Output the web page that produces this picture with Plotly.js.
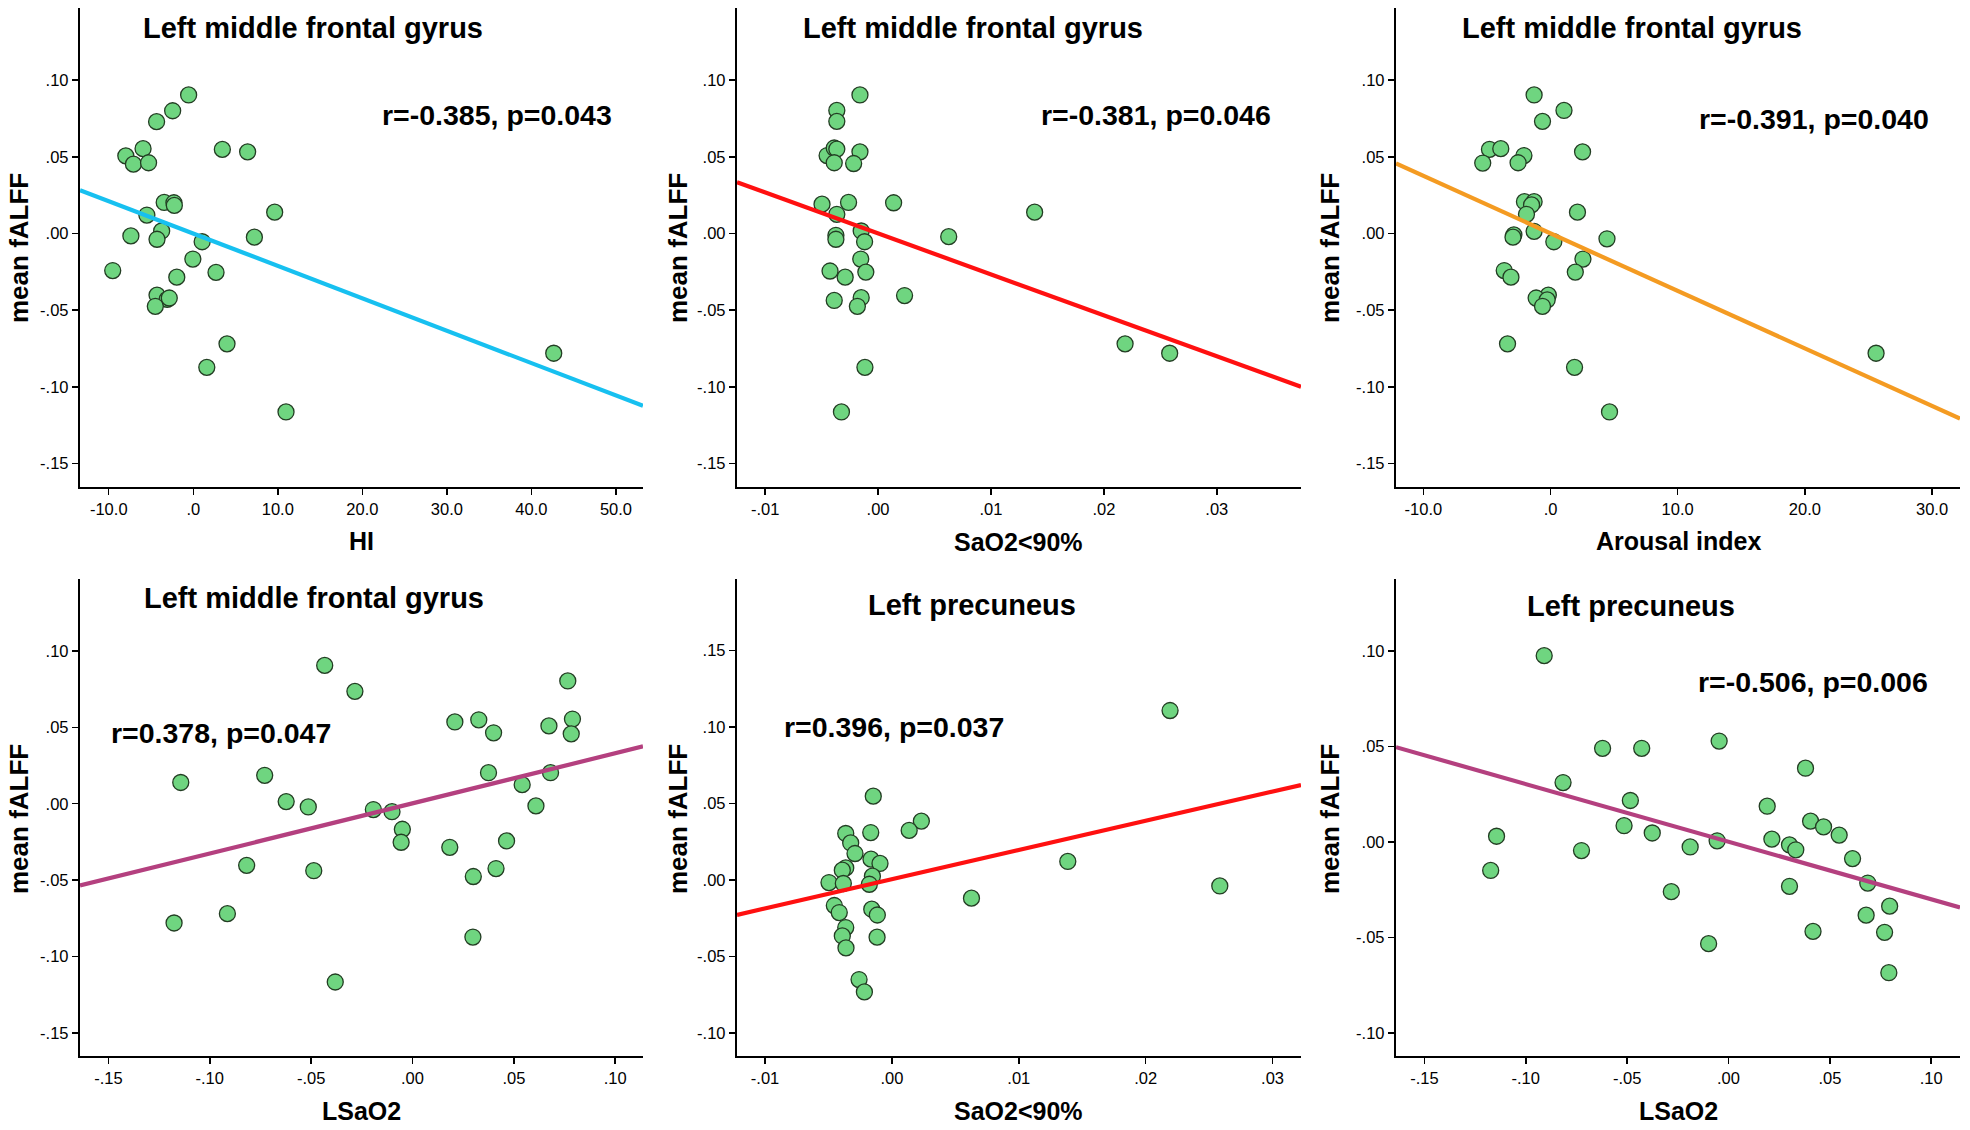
<!DOCTYPE html>
<html>
<head>
<meta charset="utf-8">
<script src="https://cdn.plot.ly/plotly-3.0.1.min.js"></script>
<style>
html,body{margin:0;padding:0;background:#fff;}
#chart{width:1970px;height:1130px;}
</style>
</head>
<body>
<div id="chart"></div>
<script>
// ---------- DATA ----------
// Panel 1: Left middle frontal gyrus vs HI
var hiX = [-0.55,-2.44,-4.34,-5.94,-7.98,-7.08,-5.29,3.44,6.43,-3.44,-2.29,-2.24,-5.49,9.63,-7.38,-3.74,-4.29,1.05,7.23,-0.05,-9.53,-1.95,2.69,-4.29,-3.09,-2.84,-4.49,3.99,1.60,10.97,42.64];
var hiY = [0.0903,0.0800,0.0729,0.0553,0.0506,0.0452,0.0461,0.0548,0.0532,0.0202,0.0200,0.0183,0.0120,0.0139,-0.0016,0.0016,-0.0038,-0.0054,-0.0024,-0.0167,-0.0242,-0.0285,-0.0254,-0.0402,-0.0430,-0.0421,-0.0475,-0.0720,-0.0873,-0.1164,-0.0781];
var hiFitX = [-13.4, 53.2];
var hiFitY = [0.0282, -0.1124];

// Panel 2: Left middle frontal gyrus vs SaO2<90%
var sao2X = [-0.0016,-0.00365,-0.00365,-0.00451,-0.00388,-0.00365,-0.00388,-0.0016,-0.00216,-0.00496,-0.00261,-0.00365,0.00138,0.01387,-0.00149,-0.00373,-0.00373,-0.00119,0.00626,-0.00153,-0.00425,-0.00291,-0.00108,-0.00388,-0.00149,-0.00183,0.00235,0.02188,0.02583,-0.00116,-0.00324];
var sao2Y = [0.0903,0.0802,0.0731,0.0508,0.0557,0.0550,0.0461,0.0532,0.0456,0.0191,0.0202,0.0125,0.0200,0.0139,0.0016,-0.0012,-0.0038,-0.0054,-0.0021,-0.0167,-0.0245,-0.0285,-0.0252,-0.0437,-0.0419,-0.0475,-0.0405,-0.0720,-0.0781,-0.0873,-0.1164];
var sao2FitX = [-0.01249, 0.03746];
var sao2FitY = [0.0334, -0.1000];

// Panel 3: Left middle frontal gyrus vs Arousal index
var arousalX = [-1.29,1.06,-0.63,-4.80,-3.91,2.52,-5.33,-2.09,-2.55,-2.05,-1.29,-1.49,2.12,-1.89,-2.88,-2.95,-1.29,0.26,4.44,2.55,-3.64,-3.11,1.95,-0.17,-1.13,-0.26,-0.63,-3.38,1.89,4.64,25.60];
var arousalY = [0.0903,0.0802,0.0731,0.0548,0.0553,0.0532,0.0459,0.0508,0.0461,0.0207,0.0207,0.0186,0.0139,0.0125,-0.0009,-0.0024,0.0014,-0.0054,-0.0035,-0.0167,-0.0242,-0.0285,-0.0252,-0.0402,-0.0421,-0.0433,-0.0475,-0.0720,-0.0873,-0.1164,-0.0781];
var arousalFitX = [-12.15, 32.2];
var arousalFitY = [0.0456, -0.1207];

// Panel 4: Left middle frontal gyrus vs LSaO2
var lsao2X = [-0.0433,-0.0284,0.0766,0.0209,0.0327,0.0400,0.0673,0.0789,0.0783,-0.1143,-0.0729,0.0375,0.0681,0.0541,-0.0623,-0.0514,-0.0193,-0.0101,0.0609,-0.0050,-0.0056,0.0184,0.0464,-0.0818,-0.0487,0.0412,0.0300,-0.0913,-0.1176,0.0298,-0.0381];
var lsao2Y = [0.0905,0.0735,0.0803,0.0535,0.0549,0.0464,0.0509,0.0554,0.0457,0.0139,0.0186,0.0203,0.0203,0.0125,0.0014,-0.0021,-0.0038,-0.0052,-0.0014,-0.0167,-0.0252,-0.0285,-0.0243,-0.0403,-0.0438,-0.0424,-0.0476,-0.0719,-0.0780,-0.0872,-0.1166];
var lsao2FitX = [-0.164, 0.1137];
var lsao2FitY = [-0.0535, 0.0375];

// Panel 5: Left precuneus vs SaO2<90%
var precSao2X = [0.02192,-0.00147,0.00232,0.00136,-0.00167,-0.00364,-0.00325,-0.00291,-0.00165,-0.00094,-0.00364,-0.00391,-0.00496,-0.00383,-0.00154,-0.00178,0.01386,0.02584,0.00627,-0.00454,-0.00415,-0.00159,-0.00115,-0.00364,-0.00391,-0.00362,-0.00117,-0.00259,-0.00217];
var precSao2Y = [0.1107,0.0547,0.0384,0.0323,0.0309,0.0303,0.0241,0.0172,0.0135,0.0107,0.0078,0.0063,-0.0018,-0.0024,0.0024,-0.0029,0.0120,-0.0040,-0.0120,-0.0168,-0.0214,-0.0192,-0.0230,-0.0312,-0.0367,-0.0445,-0.0375,-0.0652,-0.0733];
var precSao2FitX = [-0.01221, 0.03224];
var precSao2FitY = [-0.0229, 0.0620];

// Panel 6: Left precuneus vs LSaO2
var precLsao2X = [-0.0909,-0.0621,-0.0428,-0.0046,-0.0816,0.0380,-0.0484,0.0191,-0.0515,-0.0376,-0.1144,0.0405,0.0469,0.0546,0.0214,-0.0056,-0.0725,-0.0189,0.0301,0.0332,0.0612,-0.1173,0.0687,-0.0282,0.0301,0.0795,0.0679,0.0417,0.0770,-0.0098,0.0791];
var precLsao2Y = [0.0975,0.0490,0.0490,0.0528,0.0311,0.0386,0.0217,0.0187,0.0085,0.0047,0.0030,0.0109,0.0079,0.0036,0.0015,0.0006,-0.0045,-0.0026,-0.0015,-0.0041,-0.0087,-0.0149,-0.0215,-0.0260,-0.0232,-0.0336,-0.0383,-0.0468,-0.0473,-0.0532,-0.0684];
var precLsao2FitX = [-0.164, 0.1142];
var precLsao2FitY = [0.0496, -0.0343];

// Tick values and labels
var hiTickVals = [-10,0,10,20,30,40,50];
var hiTickText = ["-10.0",".0","10.0","20.0","30.0","40.0","50.0"];
var arousalTickVals = [-10,0,10,20,30];
var arousalTickText = ["-10.0",".0","10.0","20.0","30.0"];
var sao2TickVals = [-0.01,0,0.01,0.02,0.03];
var sao2TickText = ["-.01",".00",".01",".02",".03"];
var lsao2TickVals = [-0.15,-0.10,-0.05,0,0.05,0.10];
var lsao2TickText = ["-.15","-.10","-.05",".00",".05",".10"];
var yTickValsA = [-0.15,-0.10,-0.05,0,0.05,0.10];
var yTickTextA = ["-.15","-.10","-.05",".00",".05",".10"];
var yTickValsB = [-0.10,-0.05,0,0.05,0.10,0.15];
var yTickTextB = ["-.10","-.05",".00",".05",".10",".15"];
var yTickValsC = [-0.10,-0.05,0,0.05,0.10];
var yTickTextC = ["-.10","-.05",".00",".05",".10"];

var panelTitles = ["Left middle frontal gyrus","Left middle frontal gyrus","Left middle frontal gyrus","Left middle frontal gyrus","Left precuneus","Left precuneus"];
var statTexts = ["r=-0.385, p=0.043","r=-0.381, p=0.046","r=-0.391, p=0.040","r=0.378, p=0.047","r=0.396, p=0.037","r=-0.506, p=0.006"];
var xTitles = ["HI","SaO2<90%","Arousal index","LSaO2","SaO2<90%","LSaO2"];
var yTitle = "mean fALFF";

// ---------- LAYOUT / STYLE ----------
var W = 1970, H = 1130;
function px(x){return x/W;}
function py(y){return 1 - y/H;}
var FONT = "Liberation Sans, Arial, Helvetica, sans-serif";
var GREEN = "#6FD580", EDGE = "#233d23";
var lineColors = ["#17C0F0","#FF1010","#F49B22","#B4407F","#FF1010","#B4407F"];

var panels = [
  {x:hiX, y:hiY, fx:hiFitX, fy:hiFitY, xr:[-13.4,53.2], yr:[-0.165,0.147], xtv:hiTickVals, xtt:hiTickText, ytv:yTickValsA, ytt:yTickTextA},
  {x:sao2X, y:sao2Y, fx:sao2FitX, fy:sao2FitY, xr:[-0.01249,0.03746], yr:[-0.165,0.147], xtv:sao2TickVals, xtt:sao2TickText, ytv:yTickValsA, ytt:yTickTextA},
  {x:arousalX, y:arousalY, fx:arousalFitX, fy:arousalFitY, xr:[-12.15,32.2], yr:[-0.165,0.147], xtv:arousalTickVals, xtt:arousalTickText, ytv:yTickValsA, ytt:yTickTextA},
  {x:lsao2X, y:lsao2Y, fx:lsao2FitX, fy:lsao2FitY, xr:[-0.164,0.1137], yr:[-0.165,0.147], xtv:lsao2TickVals, xtt:lsao2TickText, ytv:yTickValsA, ytt:yTickTextA},
  {x:precSao2X, y:precSao2Y, fx:precSao2FitX, fy:precSao2FitY, xr:[-0.01221,0.03224], yr:[-0.1152,0.1967], xtv:sao2TickVals, xtt:sao2TickText, ytv:yTickValsB, ytt:yTickTextB},
  {x:precLsao2X, y:precLsao2Y, fx:precLsao2FitX, fy:precLsao2FitY, xr:[-0.164,0.1142], yr:[-0.112,0.1376], xtv:lsao2TickVals, xtt:lsao2TickText, ytv:yTickValsC, ytt:yTickTextC}
];

var colPx = [[80,643],[737,1301],[1396,1960]];
var rowPx = [[8,486.5],[579,1056]];
var titlePos = [[312.7,28],[972.7,28],[1631.5,28],[314,598],[972,605],[1631,606]];
var statPos = [[496.6,115],[1155.7,115],[1814,119],[221,733],[894,727],[1812.5,682]];
var xTitlePos = [[361.5,541],[1019,542],[1678,541],[361.5,1111],[1019,1111],[1678,1111]];
var yTitleX = [19,678,1330];
var yTitleY = [248,819];

var data = [], annotations = [];
var layout = {
  width: W, height: H,
  margin: {l:0,r:0,t:0,b:0},
  paper_bgcolor: "#ffffff", plot_bgcolor: "#ffffff",
  showlegend: false,
  font: {family: FONT, color: "#000"}
};

panels.forEach(function(p, i){
  var n = i + 1;
  var col = i % 3, row = Math.floor(i / 3);
  var xa = "x" + (n === 1 ? "" : n), ya = "y" + (n === 1 ? "" : n);
  var xKey = "xaxis" + (n === 1 ? "" : n), yKey = "yaxis" + (n === 1 ? "" : n);
  data.push({type:"scatter", mode:"markers", x:p.x, y:p.y, xaxis:xa, yaxis:ya,
    marker:{size:16, color:GREEN, line:{color:EDGE, width:1.3}}, cliponaxis:false, hoverinfo:"x+y"});
  data.push({type:"scatter", mode:"lines", x:p.fx, y:p.fy, xaxis:xa, yaxis:ya,
    line:{color:lineColors[i], width:4.2}, hoverinfo:"skip"});
  layout[xKey] = {
    domain:[px(colPx[col][0]), px(colPx[col][1])], anchor: ya,
    range: p.xr, tickmode:"array", tickvals:p.xtv, ticktext:p.xtt,
    showline:true, linecolor:"#000", linewidth:2.2, ticks:"outside", ticklen:6, tickwidth:1.5, tickcolor:"#000",
    showgrid:false, zeroline:false, tickfont:{family:FONT, size:16.5, color:"#000"}, fixedrange:true
  };
  layout[yKey] = {
    domain:[py(rowPx[row][1]), py(rowPx[row][0])], anchor: xa,
    range: p.yr, tickmode:"array", tickvals:p.ytv, ticktext:p.ytt,
    showline:true, linecolor:"#000", linewidth:2.2, ticks:"outside", ticklen:6, tickwidth:1.5, tickcolor:"#000",
    showgrid:false, zeroline:false, tickfont:{family:FONT, size:16.5, color:"#000"}, fixedrange:true
  };
  annotations.push({xref:"paper", yref:"paper", x:px(titlePos[i][0]), y:py(titlePos[i][1]),
    xanchor:"center", yanchor:"middle", showarrow:false, text:"<b>"+panelTitles[i]+"</b>",
    font:{family:FONT, size:29, color:"#000"}});
  annotations.push({xref:"paper", yref:"paper", x:px(statPos[i][0]), y:py(statPos[i][1]),
    xanchor:"center", yanchor:"middle", showarrow:false, text:"<b>"+statTexts[i]+"</b>",
    font:{family:FONT, size:28.5, color:"#000"}});
  annotations.push({xref:"paper", yref:"paper", x:px(xTitlePos[i][0]), y:py(xTitlePos[i][1]),
    xanchor:"center", yanchor:"middle", showarrow:false, text:"<b>"+xTitles[i]+"</b>",
    font:{family:FONT, size:25, color:"#000"}});
  annotations.push({xref:"paper", yref:"paper", x:px(yTitleX[col]), y:py(yTitleY[row]),
    xanchor:"center", yanchor:"middle", showarrow:false, textangle:-90, text:"<b>"+yTitle+"</b>",
    font:{family:FONT, size:26, color:"#000"}});
});
layout.annotations = annotations;

Plotly.newPlot("chart", data, layout, {displayModeBar:false, staticPlot:true});
</script>
</body>
</html>
